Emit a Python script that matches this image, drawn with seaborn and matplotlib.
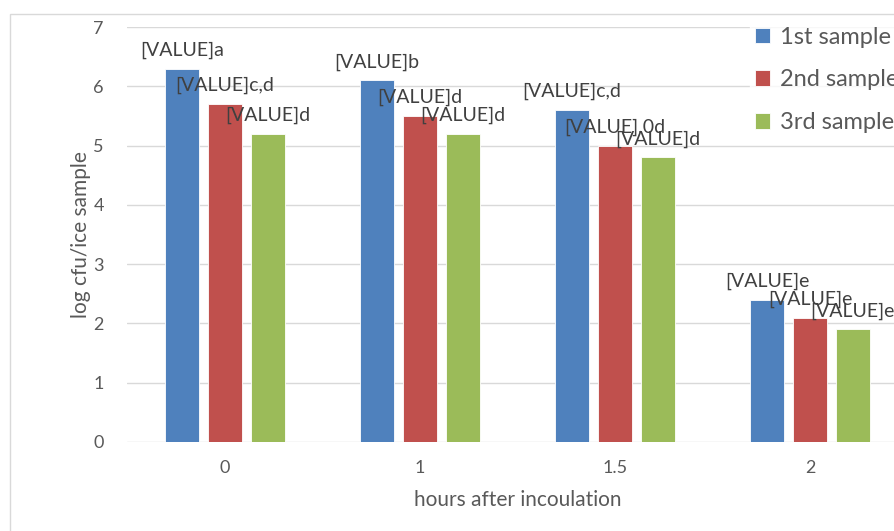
import numpy as np
import pandas as pd
import seaborn as sns
from matplotlib import pyplot as plt
from matplotlib.patches import Rectangle

# data
hours = ['0', '1', '1.5', '2']
samples = ['1st sample', '2nd sample', '3rd sample']
sample1 = [6.3, 6.1, 5.6, 2.4]
sample2 = [5.7, 5.5, 5.0, 2.1]
sample3 = [5.2, 5.2, 4.8, 1.9]
labels1 = ['[VALUE]a', '[VALUE]b', '[VALUE]c,d', '[VALUE]e']
labels2 = ['[VALUE]c,d', '[VALUE]d', '[VALUE].0d', '[VALUE]e']
labels3 = ['[VALUE]d', '[VALUE]d', '[VALUE]d', '[VALUE]e']

df = pd.DataFrame({
    'hours': hours * 3,
    'sample': np.repeat(samples, len(hours)),
    'value': sample1 + sample2 + sample3,
})

sns.set_theme(style='white')
plt.rcParams['font.family'] = ['Lato', 'DejaVu Sans']

colors = ['#4F81BD', '#C0504D', '#9BBB59']
fig = plt.figure(figsize=(8.94, 5.31), dpi=100)
# outer chart frame (cropped on the right and bottom like the reference)
fig.patches.append(Rectangle((9.5 / 894, -0.1), 1.2, (531 - 13.5) / 531 + 0.1,
                             transform=fig.transFigure, fill=False,
                             edgecolor='#D9D9D9', linewidth=1))
ax = fig.add_axes([127.5 / 894, 89 / 531, 780 / 894, 415 / 531])

sns.barplot(data=df, x='hours', y='value', hue='sample', order=hours,
            hue_order=samples, palette=colors, width=0.66, gap=0.2,
            saturation=1, ax=ax, edgecolor='white', linewidth=0.6)

for cont, labs in zip(ax.containers, [labels1, labels2, labels3]):
    ax.bar_label(cont, labels=labs, padding=7, fontsize=14, color='#404040')

ax.set_ylim(0, 7)
ax.set_yticks(range(8))
ax.yaxis.grid(True, color='#D9D9D9', linewidth=1)
ax.set_axisbelow(True)
for s in ax.spines.values():
    s.set_visible(False)
ax.tick_params(axis='both', length=0, labelsize=13, colors='#595959')
ax.tick_params(axis='y', pad=17)
ax.tick_params(axis='x', pad=13)
ax.set_xlabel('hours after incoulation', fontsize=15, color='#595959', labelpad=10)
ax.set_ylabel('log cfu/ice sample', fontsize=15, color='#595959', labelpad=2)

leg = ax.legend(loc='upper left', bbox_to_anchor=(750 / 894, 1 - 22 / 531),
                bbox_transform=fig.transFigure, frameon=True, fontsize=17,
                handlelength=0.65, handleheight=0.65, handletextpad=0.4,
                labelspacing=0.92, borderaxespad=0, borderpad=0.2)
leg.get_frame().set_edgecolor('white')
leg.get_frame().set_facecolor('white')
for t in leg.get_texts():
    t.set_color('#595959')

fig.savefig('out.png', dpi=100)
